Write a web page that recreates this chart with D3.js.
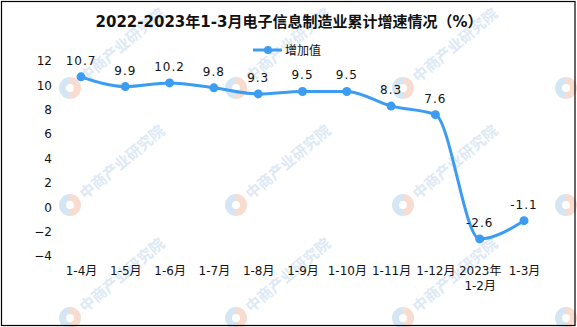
<!DOCTYPE html>
<html>
<head>
<meta charset="utf-8">
<script src="https://cdn.jsdelivr.net/npm/d3@7"></script>
<style>
  body { margin: 0; background: #fff; }
  svg { display: block; }
  text { font-family: "DejaVu Sans", "Noto Sans CJK SC", sans-serif; }
</style>
</head>
<body>
<svg id="chart" width="577" height="327"></svg>
<script>
const width = 577;
const height = 327;

const categories = ["1-4月", "1-5月", "1-6月", "1-7月", "1-8月", "1-9月", "1-10月", "1-11月", "1-12月", "2023年\n1-2月", "1-3月"];
const values = [10.7, 9.9, 10.2, 9.8, 9.3, 9.5, 9.5, 8.3, 7.6, -2.6, -1.1];
const yTicks = [-4, -2, 0, 2, 4, 6, 8, 10, 12];
const seriesName = "增加值";
const title = "2022-2023年1-3月电子信息制造业累计增速情况（%）";

const lineColor = "#3b9cf1";

const svg = d3.select("#chart");

//------------ Watermarks ------------------------------------------------------------//
const marks = svg.append("g").attr("class", "watermarks");
const markX = [70, 236, 403, 566];
const markY = [88, 205, 318];
for (const mx of markX) {
    for (const my of markY) {
        const g = marks.append("g").attr("transform", `translate(${mx},${my})`);
        g.append("path")
            .attr("d", d3.arc()({innerRadius: 4, outerRadius: 11, startAngle: 0, endAngle: Math.PI}))
            .attr("fill", "#f8dccf");
        g.append("path")
            .attr("d", d3.arc()({innerRadius: 4, outerRadius: 11, startAngle: Math.PI, endAngle: 2 * Math.PI}))
            .attr("fill", "#d4e6f4");
        // text would run off the right edge for the last column
        if (mx < 500) {
            g.append("text")
                .attr("transform", "rotate(-40) translate(15,6)")
                .attr("font-size", 15)
                .attr("font-weight", "bold")
                .attr("fill", "#dde9f5")
                .text("中商产业研究院");
        }
    }
}

//------------ Border ----------------------------------------------------------------//
svg.append("rect")
    .attr("x", 1.5).attr("y", 1.5)
    .attr("width", 573.5).attr("height", 324)
    .attr("fill", "none")
    .attr("stroke", "#000")
    .attr("stroke-width", 1.2);

//------------ Title & Legend --------------------------------------------------------//
svg.append("text")
    .attr("x", 289).attr("y", 27)
    .attr("text-anchor", "middle")
    .attr("font-size", 15)
    .attr("font-weight", "bold")
    .attr("font-family", "'Noto Sans CJK SC', sans-serif")
    .attr("fill", "#111")
    .text(title);

const legend = svg.append("g").attr("transform", "translate(253,50)");
legend.append("line")
    .attr("x1", 0).attr("x2", 29)
    .attr("stroke", lineColor).attr("stroke-width", 3);
legend.append("circle")
    .attr("cx", 15).attr("r", 4).attr("fill", lineColor);
legend.append("text")
    .attr("x", 32).attr("y", 5)
    .attr("font-size", 12)
    .attr("font-family", "'Noto Sans CJK SC', sans-serif")
    .attr("fill", "#111")
    .text(seriesName);

//------------ Scales ----------------------------------------------------------------//
const x = d3.scalePoint().domain(categories).range([81, 524]);
const y = d3.scaleLinear().domain([-4, 12]).range([256, 61]);

// y axis labels, no axis line
const yAxis = svg.append("g")
    .attr("transform", "translate(52,0)")
    .call(d3.axisLeft(y).tickValues(yTicks).tickSize(0).tickPadding(0));
yAxis.select(".domain").remove();
yAxis.selectAll("text")
    .attr("font-size", 12)
    .attr("fill", "#111")
    .attr("font-family", "'DejaVu Sans', sans-serif");

// x axis labels
const xAxis = svg.append("g")
    .attr("transform", "translate(0,265)")
    .call(d3.axisBottom(x).tickSize(0).tickPadding(0).tickFormat(""));
xAxis.select(".domain").remove();
xAxis.selectAll(".tick").each(function(d) {
    const lines = d.split("\n");
    const t = d3.select(this).append("text")
        .attr("text-anchor", "middle")
        .attr("font-size", 12)
        .attr("font-family", "'Noto Sans CJK SC', sans-serif")
        .attr("fill", "#111");
    lines.forEach((s, i) => {
        t.append("tspan").attr("x", 0).attr("y", 10 + i * 15).text(s);
    });
});

//------------ Line ------------------------------------------------------------------//
const points = categories.map((c, i) => ({cat: c, value: values[i]}));

svg.append("path")
    .datum(points)
    .attr("fill", "none")
    .attr("stroke", lineColor)
    .attr("stroke-width", 3)
    .attr("d", d3.line().x(d => x(d.cat)).y(d => y(d.value)).curve(d3.curveMonotoneX));

svg.append("g")
    .selectAll("circle")
    .data(points)
    .join("circle")
    .attr("cx", d => x(d.cat))
    .attr("cy", d => y(d.value))
    .attr("r", 4.5)
    .attr("fill", lineColor);

svg.append("g")
    .selectAll("text")
    .data(points)
    .join("text")
    .attr("x", d => x(d.cat))
    .attr("y", d => y(d.value) - 12)
    .attr("text-anchor", "middle")
    .attr("font-size", 12)
    .attr("letter-spacing", 1)
    .attr("font-family", "'DejaVu Sans', sans-serif")
    .attr("fill", "#111")
    .text(d => d.value.toFixed(1));
</script>
</body>
</html>
